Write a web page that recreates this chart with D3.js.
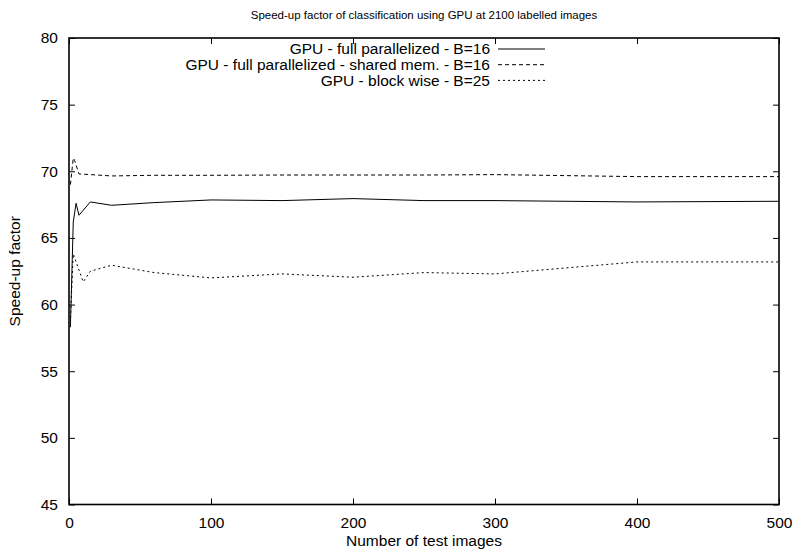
<!DOCTYPE html>
<html>
<head>
<meta charset="utf-8">
<script src="https://cdn.jsdelivr.net/npm/d3@7"></script>
<style>
  body { margin: 0; background: #fff; }
  text { font-family: "Liberation Sans", Arial, sans-serif; fill: #000; }
</style>
</head>
<body>
<div id="chart"></div>
<script>
// Datos: numero de imagenes de prueba vs factor de aceleracion
const xFull = [1, 3, 5, 7, 15, 30, 60, 100, 150, 200, 250, 300, 400, 500];
const yFull = [58.3, 66.2, 67.6, 66.7, 67.7, 67.45, 67.65, 67.85, 67.8, 67.95, 67.8, 67.8, 67.7, 67.75];

const xShared = [1, 3, 4, 7, 15, 30, 60, 100, 150, 200, 250, 300, 400, 500];
const yShared = [69.0, 71.0, 70.8, 69.8, 69.75, 69.65, 69.7, 69.7, 69.72, 69.72, 69.72, 69.75, 69.6, 69.6];

const xBlock = [1, 3, 10, 15, 30, 60, 100, 150, 200, 250, 300, 400, 500];
const yBlock = [59.0, 63.8, 61.7, 62.5, 62.95, 62.4, 62.0, 62.3, 62.05, 62.4, 62.3, 63.2, 63.2];

const seriesNames = [
  "GPU - full parallelized - B=16",
  "GPU - full parallelized - shared mem. - B=16",
  "GPU - block wise - B=25"
];
const xTicks = [0, 100, 200, 300, 400, 500];
const yTicks = [45, 50, 55, 60, 65, 70, 75, 80];

const series = [
  { name: seriesNames[0], xs: xFull, ys: yFull, dash: null },
  { name: seriesNames[1], xs: xShared, ys: yShared, dash: "4,3" },
  { name: seriesNames[2], xs: xBlock, ys: yBlock, dash: "2,3" }
];

const W = 798, H = 555;
const margin = { top: 38, right: 19, bottom: 50.5, left: 69 };
const width = W - margin.left - margin.right,
      height = H - margin.top - margin.bottom;

const svg = d3.select("#chart").append("svg")
  .attr("width", W).attr("height", H);

const g = svg.append("g")
  .attr("transform", "translate(" + margin.left + "," + margin.top + ")");

const x = d3.scaleLinear().domain([0, 500]).range([0, width]);
const y = d3.scaleLinear().domain([45, 80]).range([height, 0]);

// Ejes con ticks hacia adentro (estilo gnuplot), espejados arriba y a la derecha
g.append("g")
  .attr("transform", "translate(0," + height + ")")
  .call(d3.axisBottom(x).tickValues(xTicks).tickSize(-6).tickPadding(12))
  .call(a => a.select(".domain").remove())
  .selectAll("text").style("font-size", "15.5px");

g.append("g")
  .call(d3.axisTop(x).tickValues(xTicks).tickSize(-6).tickFormat(""))
  .call(a => a.select(".domain").remove());

g.append("g")
  .call(d3.axisLeft(y).tickValues(yTicks).tickSize(-6).tickPadding(11))
  .call(a => a.select(".domain").remove())
  .selectAll("text").style("font-size", "15.5px");

g.append("g")
  .attr("transform", "translate(" + width + ",0)")
  .call(d3.axisRight(y).tickValues(yTicks).tickSize(-6).tickFormat(""))
  .call(a => a.select(".domain").remove());

g.selectAll(".tick line").attr("stroke", "#000").attr("stroke-width", 1);

// Lineas de datos
const line = d3.line().x(d => x(d[0])).y(d => y(d[1]));

g.selectAll(".serie")
  .data(series)
  .enter().append("path")
  .attr("class", "serie")
  .attr("d", s => line(s.xs.map((v, i) => [v, s.ys[i]])))
  .attr("fill", "none")
  .attr("stroke", "#000")
  .attr("stroke-width", 1)
  .attr("stroke-dasharray", s => s.dash);

// Marco
g.append("rect")
  .attr("width", width).attr("height", height)
  .attr("fill", "none").attr("stroke", "#000").attr("stroke-width", 1.6);

// Leyenda
const legend = g.selectAll(".legend")
  .data(series)
  .enter().append("g")
  .attr("class", "legend")
  .attr("transform", (d, i) => "translate(0," + (11 + i * 15.7) + ")");

legend.append("text")
  .attr("x", 421)
  .attr("dy", "0.35em")
  .style("text-anchor", "end")
  .style("font-size", "15.5px")
  .text(d => d.name);

legend.append("line")
  .attr("x1", 429).attr("x2", 476)
  .attr("stroke", "#000").attr("stroke-width", 1)
  .attr("stroke-dasharray", d => d.dash);

// Titulo y etiquetas de ejes
svg.append("text")
  .attr("x", margin.left + width / 2).attr("y", 19)
  .style("text-anchor", "middle").style("font-size", "11.5px")
  .text("Speed-up factor of classification using GPU at 2100 labelled images");

svg.append("text")
  .attr("x", margin.left + width / 2).attr("y", 546)
  .style("text-anchor", "middle").style("font-size", "15.5px")
  .text("Number of test images");

svg.append("text")
  .attr("transform", "translate(20," + (margin.top + height / 2) + ") rotate(-90)")
  .style("text-anchor", "middle").style("font-size", "15.5px")
  .text("Speed-up factor");
</script>
</body>
</html>
